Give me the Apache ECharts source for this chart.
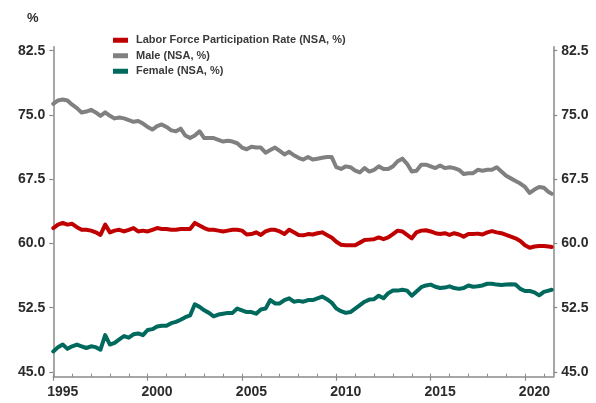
<!DOCTYPE html>
<html>
<head>
<meta charset="utf-8">
<script src="https://cdn.jsdelivr.net/npm/echarts@6/dist/echarts.min.js"></script>
<style>
  html, body { margin: 0; padding: 0; background: #fff; }
  #echarts { width: 596px; height: 403px; }
</style>
</head>
<body>
<div id="echarts"></div>
<script>
// quarterly readings, Jan 1995 .. Apr 2021, plus Jun 2021
var dates = [];
for (var y = 1995; y <= 2021; y++) {
    [1, 4, 7, 10].forEach(function (m) {
        if (y < 2021 || m <= 4) dates.push(y + '-' + (m < 10 ? '0' + m : m));
    });
}
dates.push('2021-06');

var total = [
    61.8, 62.2, 62.4, 62.2,  62.3, 61.9, 61.6, 61.6,  61.5, 61.3, 61.0, 62.2,  61.3, 61.5, 61.6, 61.4,
    61.6, 61.8, 61.4, 61.5,  61.4, 61.6, 61.8, 61.7,  61.7, 61.6, 61.6, 61.7,  61.7, 61.7, 62.4, 62.1,
    61.8, 61.6, 61.6, 61.5,  61.4, 61.5, 61.6, 61.6,  61.5, 61.05, 61.1, 61.3, 61.0, 61.4, 61.6, 61.6,
    61.4, 61.1, 61.6, 61.3,  61.0, 60.95, 61.1, 61.05, 61.2, 61.3, 61.0, 60.7, 60.2, 59.85, 59.8, 59.8,
    59.8, 60.1, 60.4, 60.45, 60.5, 60.7, 60.5, 60.7, 61.1, 61.5, 61.4, 61.0,  60.6, 61.3, 61.5, 61.55,
    61.4, 61.2, 61.1, 61.2,  61.0, 61.2, 61.05, 60.8, 61.1, 61.1, 61.15, 61.05, 61.3, 61.45, 61.3, 61.2,
    61.0, 60.8, 60.6, 60.3,  59.8, 59.5, 59.65, 59.7, 59.7, 59.65, 59.6
];
var male = [
    76.3, 76.7, 76.8, 76.7,  76.2, 75.8, 75.3, 75.4,  75.6, 75.3, 74.9, 75.3,  74.9, 74.6, 74.7, 74.6,
    74.4, 74.2, 74.3, 74.0,  73.6, 73.3, 73.7, 73.9,  73.6, 73.2, 73.1, 73.4,  72.6, 72.3, 72.6, 73.1,
    72.3, 72.3, 72.3, 72.1,  71.9, 72.0, 71.9, 71.7,  71.2, 71.0, 71.3, 71.2,  71.2, 70.6, 70.9, 71.2,
    70.8, 70.4, 70.7, 70.3,  70.0, 69.8, 70.1, 69.8,  69.9, 70.0, 70.1, 70.1,  68.9, 68.7, 69.0, 68.9,
    68.5, 68.3, 68.8, 68.4,  68.6, 69.0, 68.7, 68.7,  69.0, 69.6, 69.9, 69.3,  68.4, 68.5, 69.2, 69.2,
    69.0, 68.8, 69.1, 68.8,  68.9, 68.8, 68.6, 68.1,  68.2, 68.2, 68.6, 68.5,  68.6, 68.6, 68.9, 68.4,
    67.9, 67.6, 67.3, 67.0,  66.6, 65.9, 66.3, 66.6,  66.5, 66.0, 65.8
];
var female = [
    47.4, 47.9, 48.2, 47.7,  48.0, 48.2, 48.0, 47.8,  48.0, 47.9, 47.6, 49.3,  48.2, 48.4, 48.8, 49.2,
    49.0, 49.4, 49.5, 49.3,  49.9, 50.0, 50.3, 50.4,  50.4, 50.7, 50.85, 51.1, 51.4, 51.6, 52.9, 52.6,
    52.2, 51.9, 51.5, 51.7,  51.8, 51.9, 51.9, 52.4,  52.2, 52.0, 52.0, 51.8,  52.3, 52.4, 53.4, 53.0,
    53.0, 53.4, 53.6, 53.2,  53.3, 53.2, 53.4, 53.4,  53.6, 53.8, 53.5, 53.1,  52.4, 52.1, 51.9, 52.0,
    52.4, 52.8, 53.2, 53.45, 53.5, 53.9, 53.6, 54.2,  54.5, 54.5, 54.6, 54.5,  53.9, 54.4, 54.9, 55.1,
    55.2, 54.95, 54.8, 54.85, 55.0, 54.8, 54.7, 54.8, 55.1, 54.95, 55.0, 55.1, 55.3, 55.3, 55.2, 55.15,
    55.2, 55.25, 55.2, 54.7, 54.45, 54.45, 54.3, 53.95, 54.35, 54.5, 54.6
];

var seriesNames = ['Labor Force Participation Rate (NSA, %)', 'Male (NSA, %)', 'Female (NSA, %)'];
var yearTicks = [];
for (var t = 1995; t <= 2021; t++) yearTicks.push(t);
var labelYears = [1995, 2000, 2005, 2010, 2015, 2020];
var yTicks = [45, 52.5, 60, 67.5, 75, 82.5];

function toYear(d) {
    var p = d.split('-');
    return +p[0] + (p[1] - 1) / 12;
}
function pairs(values) {
    return values.map(function (v, i) { return [toYear(dates[i]), v]; });
}

var axisColor = '#8a8a8a',
    textColor = '#2b2b2b',
    labelFont = {fontFamily: 'Liberation Sans, Arial, sans-serif', fontWeight: 'bold', fontSize: 14, color: textColor};

function yAxisFor(pos) {
    return {
        type: 'value',
        position: pos,
        min: 44.45,
        max: 82.97,
        splitLine: {show: false},
        axisLine: {show: true, lineStyle: {color: axisColor, width: 1.5}},
        axisTick: {show: true, customValues: yTicks, length: 4, lineStyle: {color: axisColor, width: 1.2}},
        axisLabel: Object.assign({
            customValues: yTicks,
            margin: 8,
            formatter: function (v) { return v.toFixed(1); }
        }, labelFont)
    };
}

var myChart = echarts.init(document.getElementById('echarts')),
    option = {
        animation: false,
        title: {
            text: '%',
            left: 22,
            top: 7,
            textStyle: {fontFamily: 'Liberation Sans, Arial, sans-serif', fontWeight: 'bold', fontSize: 13, color: textColor}
        },
        color: ['#c00000', '#808080', '#00695e'],
        legend: {
            data: seriesNames,
            orient: 'vertical',
            left: 108,
            top: 28,
            itemWidth: 15,
            itemHeight: 5,
            itemGap: 1,
            icon: 'rect',
            textStyle: {
                fontFamily: 'Liberation Sans Narrow, Arial Narrow, sans-serif',
                fontWeight: 'bold',
                fontSize: 11,
                lineHeight: 14.5,
                padding: [0, 0, 0, 3],
                color: '#3a3a3a'
            }
        },
        grid: {
            left: 53.3,
            right: 42.7,
            top: 46.7,
            bottom: 26.3
        },
        xAxis: [
            {
                type: 'value',
                min: 1995,
                max: 2021.5,
                position: 'bottom',
                splitLine: {show: false},
                axisLine: {show: true, lineStyle: {color: axisColor, width: 1.5}},
                axisTick: {show: true, inside: true, length: 3, customValues: yearTicks, lineStyle: {color: axisColor, width: 1}},
                axisLabel: {show: false}
            },
            {
                type: 'value',
                min: 1995,
                max: 2021.5,
                position: 'bottom',
                splitLine: {show: false},
                axisLine: {show: false},
                axisTick: {show: true, length: 4, customValues: labelYears, lineStyle: {color: axisColor, width: 1.2}},
                axisLabel: Object.assign({
                    customValues: labelYears.map(function (y) { return y + 0.5; }),
                    margin: 8,
                    formatter: function (v) { return Math.floor(v); }
                }, labelFont)
            }
        ],
        yAxis: [yAxisFor('left'), yAxisFor('right')],
        series: [total, male, female].map(function (vals, i) {
            return {
                name: seriesNames[i],
                type: 'line',
                showSymbol: false,
                symbol: 'none',
                lineStyle: {width: 4, cap: 'round', join: 'round'},
                data: pairs(vals)
            };
        })
    };

myChart.setOption(option);
</script>
</body>
</html>
